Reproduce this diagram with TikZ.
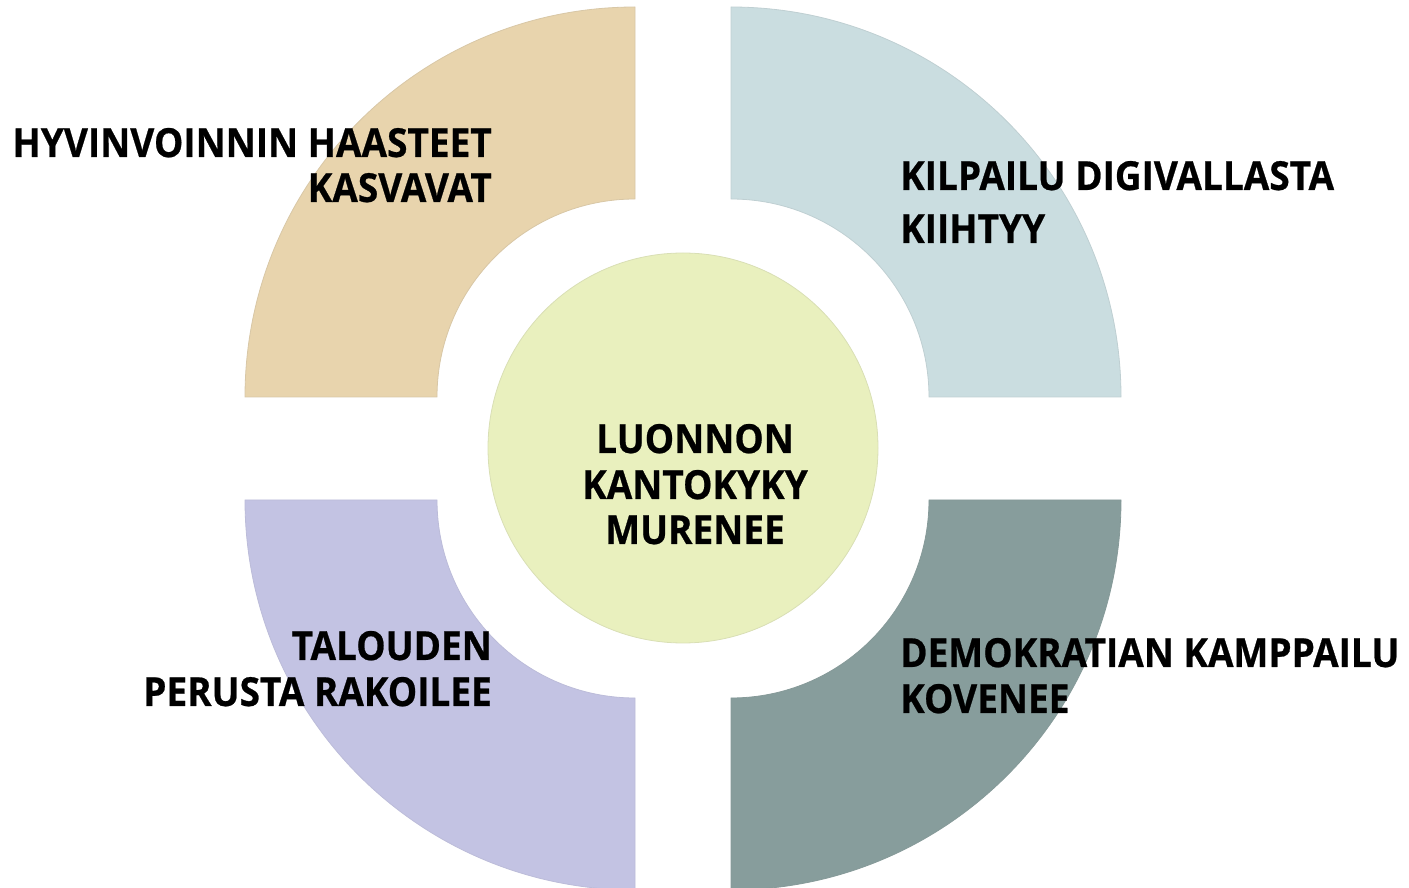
\documentclass[tikz,border=0pt]{standalone}
\usepackage{fontspec}
\setmainfont{Open Sans}[BoldFont={* Bold},BoldFeatures={FakeStretch=0.925,FakeBold=0.6}]
\definecolor{cTL}{HTML}{E8D4AD}
\definecolor{cTR}{HTML}{CADDE0}
\definecolor{cBL}{HTML}{C3C3E3}
\definecolor{cBR}{HTML}{879D9C}
\definecolor{cC}{HTML}{E9F0BE}
\begin{document}
\begin{tikzpicture}[x=1pt,y=1pt,
  lbl/.style={inner sep=0pt,font=\fontsize{40}{45}\selectfont\bfseries,text=black},
  seg/.style={line width=0.8pt}]
\useasboundingbox (0,0) rectangle (1409,887);
% quarter rings
\filldraw[seg,fill=cTL,draw=cTL!85!gray] (245,490) arc[start angle=180,end angle=90,radius=390] -- (635,688) arc[start angle=90,end angle=180,radius=198] -- cycle;
\filldraw[seg,fill=cTR,draw=cTR!85!gray] (731,880) arc[start angle=90,end angle=0,radius=390] -- (929,490) arc[start angle=0,end angle=90,radius=198] -- cycle;
\filldraw[seg,fill=cBL,draw=cBL!90!gray] (245,387) arc[start angle=180,end angle=270,radius=390] -- (635,189) arc[start angle=270,end angle=180,radius=198] -- cycle;
\filldraw[seg,fill=cBR,draw=cBR!90!gray] (1121,387) arc[start angle=0,end angle=-90,radius=390] -- (731,189) arc[start angle=270,end angle=360,radius=198] -- cycle;
% centre circle
\node[circle,minimum size=390pt,inner sep=0pt,fill=cC,draw=cC!85!gray,line width=0.8pt] (c) at (683,439) {};
% labels
\node[lbl,anchor=base east] (tl1) at (492,730) {HYVINVOINNIN HAASTEET};
\node[lbl,anchor=base east] (tl2) at (492,685) {KASVAVAT};
\node[lbl,anchor=base west] (tr1) at (900,697) {KILPAILU DIGIVALLASTA};
\node[lbl,anchor=base west] (tr2) at (900,644) {KIIHTYY};
\node[lbl,anchor=base east] (bl1) at (492,227) {TALOUDEN};
\node[lbl,anchor=base east] (bl2) at (492,181) {PERUSTA RAKOILEE};
\node[lbl,anchor=base west] (br1) at (900,220) {DEMOKRATIAN KAMPPAILU};
\node[lbl,anchor=base west] (br2) at (900,174) {KOVENEE};
\node[lbl,anchor=base] (c1) at (695,434) {LUONNON};
\node[lbl,anchor=base] (c2) at (695,388) {KANTOKYKY};
\node[lbl,anchor=base] (c3) at (695,343) {MURENEE};
\end{tikzpicture}
\end{document}
